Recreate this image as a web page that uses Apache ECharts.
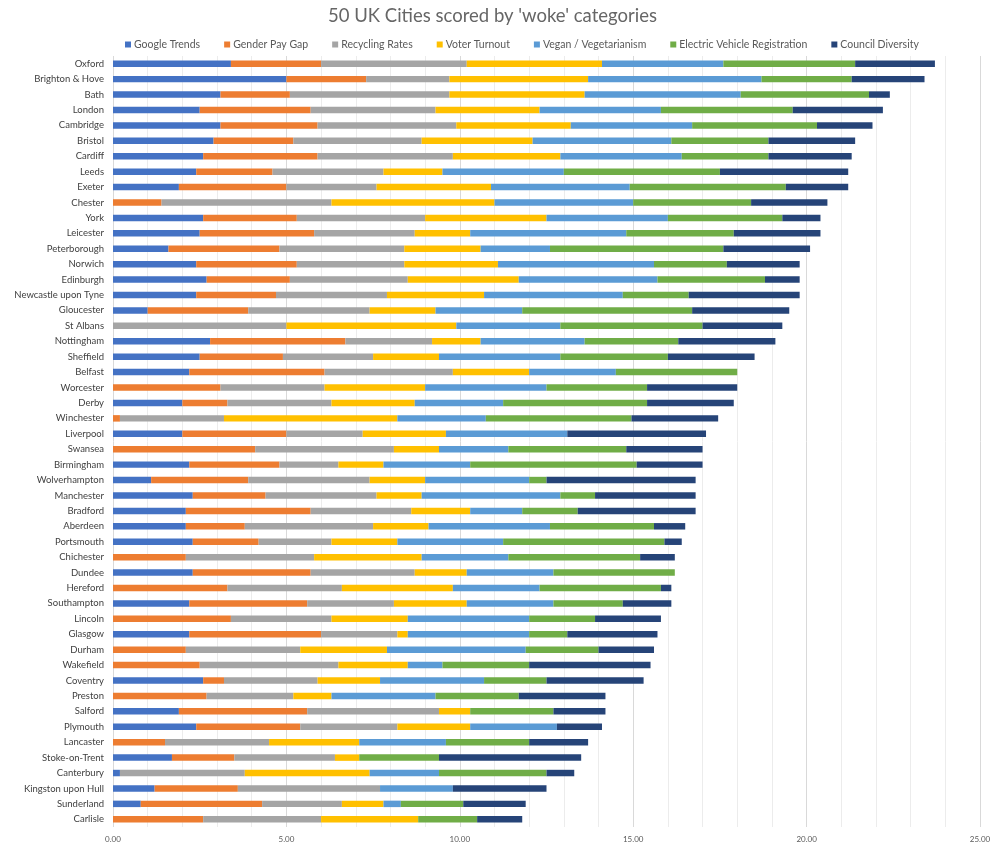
<!DOCTYPE html>
<html>
<head>
<meta charset="utf-8">
<script src="https://cdn.jsdelivr.net/npm/echarts@6/dist/echarts.min.js"></script>
<style>html,body{margin:0;padding:0;background:#fff}#c{width:996px;height:850px}</style>
</head>
<body>
<div id="c"></div>
<script>
const cities = ["Oxford","Brighton & Hove","Bath","London","Cambridge","Bristol","Cardiff","Leeds","Exeter","Chester","York","Leicester","Peterborough","Norwich","Edinburgh","Newcastle upon Tyne","Gloucester","St Albans","Nottingham","Sheffield","Belfast","Worcester","Derby","Winchester","Liverpool","Swansea","Birmingham","Wolverhampton","Manchester","Bradford","Aberdeen","Portsmouth","Chichester","Dundee","Hereford","Southampton","Lincoln","Glasgow","Durham","Wakefield","Coventry","Preston","Salford","Plymouth","Lancaster","Stoke-on-Trent","Canterbury","Kingston upon Hull","Sunderland","Carlisle"];

const googleTrends = [3.4,5.0,3.1,2.5,3.1,2.9,2.6,2.4,1.9,0,2.6,2.5,1.6,2.4,2.7,2.4,1.0,0,2.8,2.5,2.2,0,2.0,0,2.0,0,2.2,1.1,2.3,2.1,2.1,2.3,0,2.3,0,2.2,0,2.2,0,0,2.6,0,1.9,2.4,0,1.7,0.2,1.2,0.8,0];
const genderPayGap = [2.6,2.3,2.0,3.2,2.8,2.3,3.3,2.2,3.1,1.4,2.7,3.3,3.2,2.9,2.4,2.3,2.9,0,3.9,2.4,3.9,3.1,1.3,0.2,3.0,4.1,2.6,2.8,2.1,3.6,1.7,1.9,2.1,3.4,3.3,3.4,3.4,3.8,2.1,2.5,0.6,2.7,3.7,3.0,1.5,1.8,0,2.4,3.5,2.6];
const recyclingRates = [4.2,2.4,4.6,3.6,4.0,3.7,3.9,3.2,2.6,4.9,3.7,2.9,3.6,3.1,3.4,3.2,3.5,5.0,2.5,2.6,3.7,3.0,3.0,3.0,2.2,4.0,1.7,3.5,3.2,2.9,3.7,2.1,3.7,3.0,3.3,2.5,2.9,2.2,3.3,4.0,2.7,2.5,3.8,2.8,3.0,2.9,3.6,4.1,2.3,3.4];
const voterTurnout = [3.9,4.0,3.9,3.0,3.3,3.2,3.1,1.7,3.3,4.7,3.5,1.6,2.2,2.7,3.2,2.8,1.9,4.9,1.4,1.9,2.2,2.9,2.4,5.0,2.4,1.3,1.3,1.6,1.3,1.7,1.6,1.9,3.1,1.5,3.2,2.1,2.2,0.3,2.5,2.0,1.8,1.1,0.9,2.1,2.6,0.7,3.6,0,1.2,2.8];
const veganVeg = [3.5,5.0,4.5,3.5,3.5,4.0,3.5,3.5,4.0,4.0,3.5,4.5,2.0,4.5,4.0,4.0,2.5,3.0,3.0,3.5,2.5,3.5,2.55,2.55,3.5,2.0,2.5,3.0,4.0,1.5,3.5,3.05,2.5,2.5,2.5,2.5,3.5,3.5,4.0,1.0,3.0,3.0,0,2.5,2.5,0,2.0,2.1,0.5,0];
const evRegistration = [3.8,2.6,3.7,3.8,3.6,2.8,2.5,4.5,4.5,3.4,3.3,3.1,5.0,2.1,3.1,1.9,4.9,4.1,2.7,3.1,3.5,2.9,4.15,4.2,0,3.4,4.8,0.5,1.0,1.6,3.0,4.65,3.8,3.5,3.5,2.0,1.9,1.1,2.1,2.5,1.8,2.4,2.4,0,2.4,2.3,3.1,0,1.8,1.7];
const councilDiversity = [2.3,2.1,0.6,2.6,1.6,2.5,2.4,3.7,1.8,2.2,1.1,2.5,2.5,2.1,1.0,3.2,2.8,2.3,2.8,2.5,0,2.6,2.5,2.5,4.0,2.2,1.9,4.3,2.9,3.4,0.9,0.5,1.0,0,0.3,1.4,1.9,2.6,1.6,3.5,2.8,2.5,1.5,1.3,1.7,4.1,0.8,2.7,1.8,1.3];

const seriesNames = ["Google Trends","Gender Pay Gap","Recycling Rates","Voter Turnout","Vegan / Vegetarianism","Electric Vehicle Registration","Council Diversity"];
const seriesData = [googleTrends, genderPayGap, recyclingRates, voterTurnout, veganVeg, evRegistration, councilDiversity];
const colors = ["#4472C4","#ED7D31","#A5A5A5","#FFC000","#5B9BD5","#70AD47","#264478"];

const chart = echarts.init(document.getElementById('c'), null, {renderer:'canvas'});
const font = "Lato, 'Open Sans', sans-serif";
chart.setOption({
  animation:false,
  color: colors,
  textStyle:{fontFamily:font},
  title:{
    text:"50 UK Cities scored by 'woke' categories",
    left:323, top:2,
    textStyle:{fontSize:18.5, fontWeight:'normal', color:'#666666', fontFamily:font}
  },
  legend:{
    top:34, left:120,
    itemWidth:6, itemHeight:6, itemGap:24,
    icon:'rect',
    textStyle:{fontSize:10.5, color:'#595959', fontFamily:font, padding:[0,0,0,-2]},
    data: seriesNames
  },
  grid:{left:113, right:16, top:56, bottom:23, containLabel:false},
  xAxis:{
    type:'value', min:0, max:25, interval:5,
    axisLine:{show:false}, axisTick:{show:false},
    axisLabel:{formatter:v=>v.toFixed(2), fontSize:8, color:'#595959', margin:8},
    splitLine:{show:true, lineStyle:{color:'#d9d9d9', width:1}},
    minorTick:{show:false, splitNumber:5},
    minorSplitLine:{show:true, lineStyle:{color:'#ececec', width:1}}
  },
  yAxis:{
    type:'category', data:cities, inverse:true,
    axisLine:{show:false}, axisTick:{show:false},
    axisLabel:{fontSize:9.5, color:'#404040', margin:9, interval:0}
  },
  series: seriesNames.map((n,i)=>({
    name:n, type:'bar', stack:'total', data:seriesData[i],
    barCategoryGap:'58%',
    itemStyle:{color:colors[i]}
  }))
});
</script>
</body>
</html>
